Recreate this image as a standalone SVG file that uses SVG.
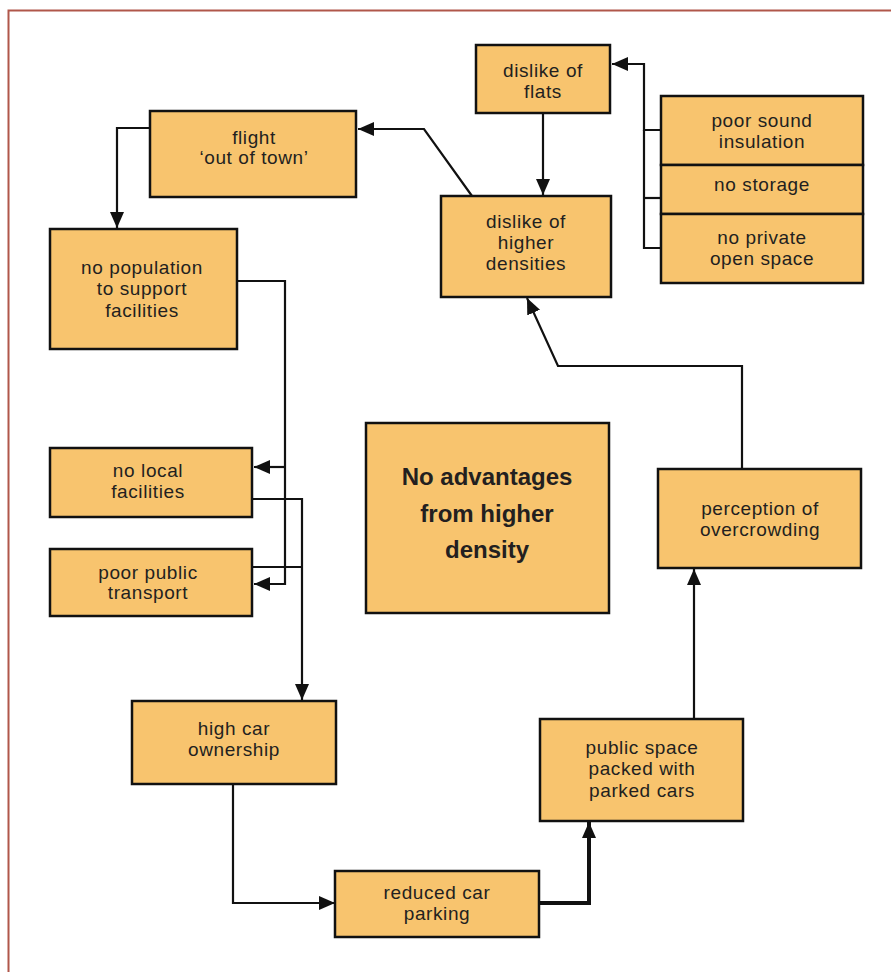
<svg xmlns="http://www.w3.org/2000/svg" width="891" height="972" viewBox="0 0 891 972">
<style>
.box{fill:#f8c46e;stroke:#111;stroke-width:2.5}
.t{font-family:"Liberation Sans",Arial,sans-serif;font-size:19px;letter-spacing:0.6px;fill:#231f20;text-anchor:middle}
.b{font-family:"Liberation Sans",Arial,sans-serif;font-size:24px;font-weight:bold;fill:#231f20;text-anchor:middle}
.c{fill:none;stroke:#111;stroke-width:2.2}
.thick{stroke-width:4}
</style>
<defs>
<marker id="ah" markerUnits="userSpaceOnUse" markerWidth="16" markerHeight="14" viewBox="0 0 16 14" refX="16" refY="7" orient="auto">
<path d="M0,0 L16,7 L0,14 Z" fill="#111"/>
</marker>
</defs>
<rect x="8.5" y="10.5" width="900" height="980" fill="none" stroke="#b0574a" stroke-width="2"/>
<g id="connectors">
<polyline class="c" points="661,130 644,130 644,64 612,64" marker-end="url(#ah)"/>
<polyline class="c" points="661,198 644,198"/>
<polyline class="c" points="661,248 644,248 644,130"/>
<line class="c" x1="543" y1="113" x2="543" y2="195" marker-end="url(#ah)"/>
<polyline class="c" points="472,196 424,129 358,129" marker-end="url(#ah)"/>
<polyline class="c" points="150,128 117,128 117,228" marker-end="url(#ah)"/>
<polyline class="c" points="237,281 285,281 285,584 254,584" marker-end="url(#ah)"/>
<polyline class="c" points="285,467 254,467" marker-end="url(#ah)"/>
<polyline class="c" points="252,499 302,499 302,700" marker-end="url(#ah)"/>
<polyline class="c" points="252,567 302,567"/>
<polyline class="c" points="233,784 233,903 335,903" marker-end="url(#ah)"/>
<polyline class="c thick" points="539,903 589,903 589,822" marker-end="url(#ah)"/>
<line class="c" x1="694" y1="719" x2="694" y2="569" marker-end="url(#ah)"/>
<polyline class="c" points="742,469 742,366 558,366 527,298" marker-end="url(#ah)"/>
</g>
<g id="dislike-flats"><rect class="box" x="476" y="45" width="134" height="68"/><text class="t" x="543" y="77">dislike of</text><text class="t" x="543" y="98">flats</text></g>
<g id="flat-problems"><rect class="box" x="661" y="96" width="202" height="69"/><text class="t" x="762" y="127">poor sound</text><text class="t" x="762" y="148">insulation</text>
<rect class="box" x="661" y="165" width="202" height="49"/><text class="t" x="762" y="191">no storage</text>
<rect class="box" x="661" y="214" width="202" height="69"/><text class="t" x="762" y="244">no private</text><text class="t" x="762" y="265">open space</text></g>
<g id="dislike-densities"><rect class="box" x="441" y="196" width="170" height="101"/><text class="t" x="526" y="228">dislike of</text><text class="t" x="526" y="249">higher</text><text class="t" x="526" y="270">densities</text></g>
<g id="flight"><rect class="box" x="150" y="111" width="206" height="86"/><text class="t" x="254" y="144">flight</text><text class="t" x="254" y="164">‘out of town’</text></g>
<g id="no-population"><rect class="box" x="50" y="229" width="187" height="120"/><text class="t" x="142" y="274">no population</text><text class="t" x="142" y="295">to support</text><text class="t" x="142" y="317">facilities</text></g>
<g id="no-local"><rect class="box" x="50" y="448" width="202" height="69"/><text class="t" x="148" y="477">no local</text><text class="t" x="148" y="498">facilities</text></g>
<g id="poor-transport"><rect class="box" x="50" y="549" width="202" height="67"/><text class="t" x="148" y="579">poor public</text><text class="t" x="148" y="599">transport</text></g>
<g id="central"><rect class="box" x="366" y="423" width="243" height="190"/><text class="b" x="487" y="485">No advantages</text><text class="b" x="487" y="522">from higher</text><text class="b" x="487" y="558">density</text></g>
<g id="perception"><rect class="box" x="658" y="469" width="203" height="99"/><text class="t" x="760" y="515">perception of</text><text class="t" x="760" y="536">overcrowding</text></g>
<g id="high-car"><rect class="box" x="132" y="701" width="204" height="83"/><text class="t" x="234" y="735">high car</text><text class="t" x="234" y="756">ownership</text></g>
<g id="public-space"><rect class="box" x="540" y="719" width="203" height="102"/><text class="t" x="642" y="754">public space</text><text class="t" x="642" y="775">packed with</text><text class="t" x="642" y="797">parked cars</text></g>
<g id="reduced-parking"><rect class="box" x="335" y="871" width="204" height="66"/><text class="t" x="437" y="899">reduced car</text><text class="t" x="437" y="920">parking</text></g>
</svg>
